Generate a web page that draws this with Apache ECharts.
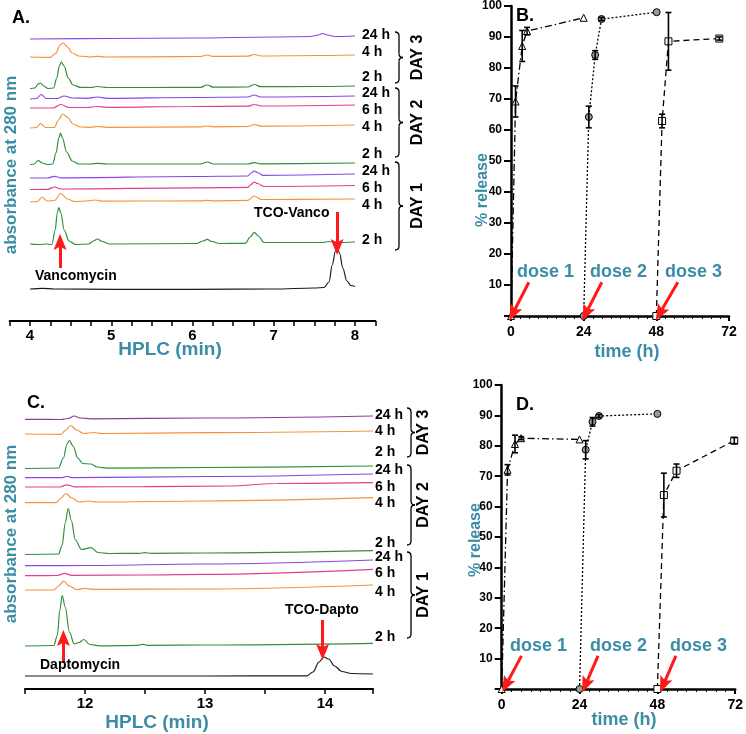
<!DOCTYPE html>
<html><head><meta charset="utf-8">
<script src="https://cdn.jsdelivr.net/npm/echarts@6/dist/echarts.min.js"></script>
<style>html,body{margin:0;padding:0;background:#fff}#c{width:746px;height:734px}</style>
</head><body><div id="c"></div>
<script>
// ---------------- DATA ----------------
// Panel A: HPLC traces (time in min, relative absorbance offset units)
const ticksA = [4, 5, 6, 7, 8];
const traceLabelsA = ['24 h','4 h','2 h','24 h','6 h','4 h','2 h','24 h','6 h','4 h','2 h'];
const dayLabels = ['DAY 3','DAY 2','DAY 1'];
const a_d3_24h = [[4,282],[5,282.5],[6,283],[7,284],[7.45,284.5],[7.55,286],[7.6,287.5],[7.66,286],[7.75,284.5],[8,285]];
const a_d3_4h = [[4,264],[4.25,263.7],[4.32,268],[4.37,276],[4.41,278],[4.46,274],[4.52,268],[4.6,265],[4.75,264],[4.83,264.7],[4.92,264],[5.5,264.2],[6.1,264.5],[6.18,266],[6.25,264.6],[6.68,264.8],[6.76,266.5],[6.85,265],[7.5,265.5],[8,266]];
const a_d3_2h = [[4,232.5],[4.06,233],[4.1,237],[4.13,238],[4.17,235],[4.22,232.5],[4.29,233],[4.33,243],[4.36,255],[4.385,259],[4.42,255],[4.47,243],[4.53,236],[4.62,233.7],[4.75,233.5],[4.83,234.5],[4.95,233.5],[5.5,233.5],[6.1,233.7],[6.18,236],[6.26,233.8],[6.68,234],[6.76,236.5],[6.84,234.3],[7.5,234.5],[8,235]];
const a_d2_24h = [[4,222],[4.08,222.5],[4.14,226.5],[4.2,222.5],[4.33,222.5],[4.42,225],[4.52,223],[4.7,222.7],[4.83,224],[4.95,222.7],[6,223.5],[6.68,224],[6.76,226],[6.84,224],[8,225]];
const a_d2_6h = [[4,213],[4.28,213],[4.38,216.5],[4.48,213.5],[4.7,213.5],[4.83,214.5],[4.95,213.7],[6,214.5],[6.68,214.8],[6.76,216.5],[6.85,215],[8,216]];
const a_d2_4h = [[4,193],[4.08,193.5],[4.13,197.5],[4.19,193.5],[4.3,193.5],[4.35,201],[4.4,207],[4.46,204],[4.53,197],[4.62,194],[4.75,193.7],[4.83,194.5],[4.95,193.7],[6.1,194.2],[6.18,195],[6.26,194.2],[6.68,194.5],[6.76,196.5],[6.85,194.8],[8,196]];
const a_d2_2h = [[4,156.5],[4.05,157],[4.1,160.5],[4.15,158],[4.21,156.5],[4.28,157],[4.32,168],[4.355,183],[4.375,188],[4.4,183],[4.45,169],[4.52,160],[4.6,157],[4.75,157],[4.83,157.7],[4.95,157],[6.1,157],[6.18,159],[6.26,157],[6.68,157],[6.76,158.3],[6.84,157.2],[8,158]];
const a_d1_24h = [[4,143],[4.22,143],[4.3,144.7],[4.38,143.2],[6,144.5],[6.68,145],[6.72,148],[6.76,150],[6.8,148.5],[6.87,145.7],[8,147]];
const a_d1_6h = [[4,131.5],[4.22,131.7],[4.3,134],[4.38,132],[6,133.2],[6.68,133.7],[6.72,136.5],[6.76,139],[6.8,137.5],[6.88,134.5],[8,135.5]];
const a_d1_4h = [[4,119],[4.09,119.5],[4.15,124],[4.21,120],[4.3,120.5],[4.38,127.5],[4.46,122],[4.55,119.5],[4.7,120],[4.8,121],[4.9,119.8],[6.1,120.2],[6.18,120.7],[6.26,120.2],[6.68,120.7],[6.76,125],[6.85,121.5],[8,122]];
const a_d1_2h = [[4,77],[4.1,76.5],[4.2,77],[4.27,76.5],[4.31,91],[4.335,108],[4.355,113.5],[4.38,108],[4.42,91],[4.48,80],[4.56,76.5],[4.72,77],[4.78,80],[4.83,82],[4.89,79.5],[4.98,77],[6.05,77.5],[6.13,80],[6.18,81.7],[6.24,79.5],[6.33,77.5],[6.65,77.7],[6.71,84],[6.76,88.7],[6.81,85],[6.88,78.5],[7.6,78.5],[7.68,79.5],[7.76,78.5],[8,79]];
const a_tco = [[4,32],[4.15,32.7],[4.3,32],[5,31.7],[6,31.7],[7,32],[7.5,33],[7.62,33.5],[7.68,39],[7.72,56],[7.76,70],[7.785,71.5],[7.81,68],[7.85,53],[7.9,40],[7.95,35.5],[8,34.5]];

// Panel C
const ticksC = [12, 13, 14];
const c_d3_24h = [[11.5,269.7],[11.8,269.5],[11.86,270.5],[11.91,273],[11.96,271],[12.05,270.2],[13,271],[14.4,273]];
const c_d3_4h = [[11.5,255],[11.8,254.7],[11.84,259],[11.88,263.5],[11.93,259],[11.99,255.5],[12.07,256.5],[12.14,255.5],[13,256.3],[14.4,258]];
const c_d3_2h = [[11.5,220.5],[11.78,221],[11.82,231],[11.85,245],[11.87,248.5],[11.9,243],[11.94,231],[11.98,225.5],[12.05,225],[12.1,222],[12.2,220.8],[13,221.5],[14.4,223]];
const c_d2_24h = [[11.5,211.3],[11.8,211.3],[11.85,212.5],[11.9,211.4],[13,212.5],[14.4,215]];
const c_d2_6h = [[11.5,202],[11.79,202],[11.85,204.2],[11.91,202.2],[12.5,202.3],[13.2,203],[13.6,205.5],[14.4,206.3]];
const c_d2_4h = [[11.5,186.3],[11.76,186.3],[11.8,191],[11.84,195.5],[11.89,191],[11.95,187],[12.03,188],[12.1,187],[13,188],[14.4,191.3]];
const c_d2_2h = [[11.5,134.5],[11.78,135],[11.81,144],[11.835,166],[11.86,180.5],[11.885,169],[11.92,149],[11.97,139.5],[12.05,141.3],[12.11,136.5],[12.2,135.5],[12.45,135.7],[12.5,136.3],[12.55,135.7],[13,136],[14.4,138.3]];
const c_d1_24h = [[11.5,123.3],[12,123.5],[13,125],[14.4,129]];
const c_d1_6h = [[11.5,113.3],[11.77,113.5],[11.83,115.7],[11.89,113.6],[12.5,114],[13,114.7],[14.4,119.7]];
const c_d1_4h = [[11.5,99],[11.74,99],[11.78,103],[11.82,107.8],[11.87,103],[11.93,99.5],[12.0,100.7],[12.07,99.7],[13,100],[14.4,104]];
const c_d1_2h = [[11.5,43],[11.74,43.5],[11.77,54],[11.79,79],[11.81,93.5],[11.835,82],[11.87,57],[11.91,45],[11.95,46.5],[11.99,49.5],[12.04,44.5],[12.12,43.2],[12.44,43.7],[12.48,44.7],[12.52,43.7],[13,44],[14.4,45.7]];
const c_tco = [[11.5,13],[13,13],[13.85,13.2],[13.9,17],[13.95,27],[13.99,32],[14.03,30],[14.08,23],[14.14,17.5],[14.22,15.5],[14.4,15]];

// Panel B: % release (time h, %), error (+/-)
const ticksTime = [0, 24, 48, 72];
const ticksRelease = [10, 20, 30, 40, 50, 60, 70, 80, 90, 100];
const b_dose1 = [[0,0],[1.5,69.2],[3.7,87.1],[5.3,91.9],[24,96.2]];
const b_dose1_err = [0,5,5,1.2,0];
const b_dose2 = [[24,0],[25.7,64.2],[27.8,84.2],[29.9,95.8],[48.1,98]];
const b_dose2_err = [0,3.5,1.4,0.5,0];
const b_dose3 = [[48,0],[49.9,62.9],[52,88.6],[68.8,89.5]];
const b_dose3_err = [0,2.2,9.3,0.5];

// Panel D
const d_dose1 = [[0,0],[1.8,72.1],[4.1,80.6],[6,82.5],[24,82.1]];
const d_dose1_err = [0,1.7,2.9,0.5,0];
const d_dose2 = [[24,0],[25.9,78.7],[28,87.9],[30,89.8],[48,90.5]];
const d_dose2_err = [0,3,1.4,0.5,0];
const d_dose3 = [[48,0],[50,63.8],[53.9,71.8],[71.7,81.7]];
const d_dose3_err = [0,7.2,2.2,1];
const doseLabels = ['dose 1','dose 2','dose 3'];

// ---------------- STYLE / LAYOUT ----------------
const FONT = 'Liberation Sans';
const TEAL = '#3B8DA6';
const RED = '#FF1A1A';
const C_PURPLE = '#8A46E6', C_ORANGE = '#F4933F', C_GREEN = '#2F8F3A', C_PINK = '#E83C8C', C_BLACK = '#1a1a1a';

const tracesA = [
  [a_d3_24h, C_PURPLE],[a_d3_4h, C_ORANGE],[a_d3_2h, C_GREEN],
  [a_d2_24h, C_PURPLE],[a_d2_6h, C_PINK],[a_d2_4h, C_ORANGE],[a_d2_2h, C_GREEN],
  [a_d1_24h, C_PURPLE],[a_d1_6h, C_PINK],[a_d1_4h, C_ORANGE],[a_d1_2h, C_GREEN],
  [a_tco, C_BLACK]
];
const tracesC = [
  [c_d3_24h, '#8E3C9C'],[c_d3_4h, C_ORANGE],[c_d3_2h, C_GREEN],
  [c_d2_24h, C_PURPLE],[c_d2_6h, C_PINK],[c_d2_4h, C_ORANGE],[c_d2_2h, C_GREEN],
  [c_d1_24h, C_PURPLE],[c_d1_6h, C_PINK],[c_d1_4h, C_ORANGE],[c_d1_2h, C_GREEN],
  [c_tco, C_BLACK]
];

const ARROW_HEAD = 'path://M6,0 L12,15 L6,12 L0,15 Z';
function arrows(pairs) {
  return {silent: true, animation: false, symbol: ['none', ARROW_HEAD], symbolSize: [13, 16],
    label: {show: false}, emphasis: {disabled: true},
    lineStyle: {color: RED, width: 3, type: 'solid'},
    data: pairs.map(p => [{coord: p[0]}, {coord: p[1]}])};
}

const series = [];
tracesA.forEach((t, i) => {
  const s = {type: 'line', xAxisIndex: 0, yAxisIndex: 0, data: t[0], showSymbol: false,
    smooth: 0.35, smoothMonotone: 'x', lineStyle: {color: t[1], width: 1.2}, silent: true};
  if (i === tracesA.length - 1) s.markLine = arrows([[[4.37, 53], [4.37, 79]], [[7.78, 109], [7.78, 74]]]);
  series.push(s);
});
tracesC.forEach((t, i) => {
  const s = {type: 'line', xAxisIndex: 2, yAxisIndex: 2, data: t[0], showSymbol: false,
    smooth: 0.35, smoothMonotone: 'x', lineStyle: {color: t[1], width: 1.2}, silent: true};
  if (i === tracesC.length - 1) s.markLine = arrows([[[11.82, 26], [11.82, 51]], [[13.98, 69], [13.98, 37]]]);
  series.push(s);
});

const lineTypes = [[7, 3, 1.5, 3], [2, 2], [6, 4]];
const symbols = [['triangle', '#fff'], ['circle', '#9a9a9a'], ['rect', '#fff']];
function release(ax, sets, arrowPairs) {
  sets.forEach((st, i) => {
    const s = {type: 'line', xAxisIndex: ax, yAxisIndex: ax, data: st[0], symbol: symbols[i][0], symbolSize: 7,
      itemStyle: {color: symbols[i][1], borderColor: '#000', borderWidth: 1},
      lineStyle: {color: '#000', width: 1.3, type: lineTypes[i]}, silent: true, z: 3};
    if (i === 0) s.markLine = arrows(arrowPairs);
    series.push(s);
    const errData = st[0].map((p, k) => [p[0], p[1] - st[1][k], p[1] + st[1][k]]).filter((d, k) => st[1][k] > 0);
    series.push({type: 'custom', xAxisIndex: ax, yAxisIndex: ax, data: errData, silent: true, z: 4,
      encode: {x: 0, y: [1, 2]},
      renderItem: function (params, api) {
        const x = api.value(0), p1 = api.coord([x, api.value(1)]), p2 = api.coord([x, api.value(2)]);
        const w = 3, st2 = {stroke: '#000', lineWidth: 1.6};
        return {type: 'group', children: [
          {type: 'line', shape: {x1: p1[0], y1: p1[1], x2: p2[0], y2: p2[1]}, style: st2},
          {type: 'line', shape: {x1: p1[0] - w, y1: p1[1], x2: p1[0] + w, y2: p1[1]}, style: st2},
          {type: 'line', shape: {x1: p2[0] - w, y1: p2[1], x2: p2[0] + w, y2: p2[1]}, style: st2}
        ]};
      }});
  });
}
release(1, [[b_dose1, b_dose1_err], [b_dose2, b_dose2_err], [b_dose3, b_dose3_err]],
  [[[5.9, 10.9], [0.6, 0.8]], [[30, 10.9], [24.7, 0.8]], [[55.1, 10.9], [49.1, 0.8]]]);
release(3, [[d_dose1, d_dose1_err], [d_dose2, d_dose2_err], [d_dose3, d_dose3_err]],
  [[[6.1, 10.9], [1.3, 1.3]], [[29.7, 10.9], [25.8, 1.3]], [[53.7, 10.9], [49.8, 1.3]]]);

function hplcX(idx, min, max, ticks, margin) {
  return {type: 'value', gridIndex: idx, min: min, max: max, interval: idx === 0 ? 0.25 : 0.5,
    axisLine: {show: true, onZero: false, lineStyle: {color: '#000', width: 2}},
    axisTick: {show: true, length: 5, lineStyle: {color: '#000', width: 1.5}},
    splitLine: {show: false},
    axisLabel: {margin: margin, fontFamily: FONT, fontWeight: 'bold', fontSize: 15, color: '#000',
      formatter: v => ticks.indexOf(Math.round(v * 1000) / 1000) >= 0 ? String(v) : ''}};
}
function relX(idx) {
  return {type: 'value', gridIndex: idx, min: 0, max: 72, interval: 24,
    axisLine: {show: true, onZero: false, lineStyle: {color: '#000', width: 2.5}},
    axisTick: {show: true, length: 5, lineStyle: {color: '#000', width: 2}},
    minorTick: {show: true, splitNumber: 8, length: 3, lineStyle: {color: '#000', width: 1}},
    splitLine: {show: false},
    axisLabel: {margin: 9, fontFamily: FONT, fontWeight: 'bold', fontSize: 14, color: '#000',
      formatter: v => ticksTime.indexOf(v) >= 0 ? String(v) : ''}};
}
function relY(idx) {
  return {type: 'value', gridIndex: idx, min: 0, max: 100, interval: 10,
    axisLine: {show: true, onZero: false, lineStyle: {color: '#000', width: 2.5}},
    axisTick: {show: true, length: 7, lineStyle: {color: '#000', width: 2}},
    splitLine: {show: false},
    axisLabel: {margin: 9, fontFamily: FONT, fontWeight: 'bold', fontSize: 12, color: '#000',
      formatter: v => ticksRelease.indexOf(v) >= 0 ? String(v) : ''}};
}
function hiddenY(idx) {
  return {type: 'value', gridIndex: idx, min: 0, max: 300, show: false, splitLine: {show: false}};
}

// ---- graphic decorations ----
const graphic = [];
function txt(text, x, y, size, color, opts) {
  const o = Object.assign({type: 'text', x: x, y: y, silent: true, z: 10,
    style: {text: text, fontFamily: FONT, fontWeight: 'bold', fontSize: size, fill: color,
      textAlign: 'left', textVerticalAlign: 'middle'}}, opts || {});
  if (opts && opts.align) { o.style.textAlign = opts.align; delete o.align; }
  graphic.push(o);
}
function brace(x, y1, y2) {
  const w = 4, m = (y1 + y2) / 2, st = {stroke: '#000', lineWidth: 1.3, fill: 'none'};
  const parts = [
    {type: 'bezierCurve', shape: {x1: x, y1: y1, x2: x + w, y2: y1 + w, cpx1: x + w, cpy1: y1}},
    {type: 'line', shape: {x1: x + w, y1: y1 + w, x2: x + w, y2: m - w}},
    {type: 'bezierCurve', shape: {x1: x + w, y1: m - w, x2: x + 2 * w, y2: m, cpx1: x + w, cpy1: m}},
    {type: 'bezierCurve', shape: {x1: x + 2 * w, y1: m, x2: x + w, y2: m + w, cpx1: x + w, cpy1: m}},
    {type: 'line', shape: {x1: x + w, y1: m + w, x2: x + w, y2: y2 - w}},
    {type: 'bezierCurve', shape: {x1: x + w, y1: y2 - w, x2: x, y2: y2, cpx1: x + w, cpy1: y2}}
  ];
  parts.forEach(p => { p.style = st; p.silent = true; graphic.push(p); });
}
// panel letters
txt('A.', 12, 18, 18, '#000');
txt('B.', 516, 16, 18, '#000');
txt('C.', 27, 403, 18, '#000');
txt('D.', 516, 405, 18, '#000');
// axis titles
txt('absorbance at 280 nm', 11, 165, 17, TEAL, {rotation: Math.PI / 2, align: 'center'});
txt('absorbance at 280 nm', 11, 534, 17, TEAL, {rotation: Math.PI / 2, align: 'center'});
txt('HPLC (min)', 170, 350, 19, TEAL, {align: 'center'});
txt('HPLC (min)', 157, 723, 19, TEAL, {align: 'center'});
txt('% release', 483, 190, 16, TEAL, {rotation: Math.PI / 2, align: 'center'});
txt('% release', 476, 540, 16, TEAL, {rotation: Math.PI / 2, align: 'center'});
txt('time (h)', 627, 352, 18, TEAL, {align: 'center'});
txt('time (h)', 624, 720, 18, TEAL, {align: 'center'});
// compound annotations
txt('Vancomycin', 35, 276, 14, '#000');
txt('TCO-Vanco', 254, 213, 14, '#000');
txt('Daptomycin', 40, 665, 14, '#000');
txt('TCO-Dapto', 285, 610, 14, '#000');
// dose labels
[517, 590, 665].forEach((x, i) => txt(doseLabels[i], x, 272, 18, TEAL));
[510, 590, 670].forEach((x, i) => txt(doseLabels[i], x, 646, 18, TEAL));
// trace labels
const labYA = [35, 52, 77, 93, 110, 127, 154, 171, 188, 205, 240];
const labYC = [415, 431, 452, 470, 487, 503, 543, 557, 573, 592, 637];
labYA.forEach((y, i) => txt(traceLabelsA[i], 362, y, 14, '#000'));
labYC.forEach((y, i) => txt(traceLabelsA[i], 375, y, 14, '#000'));
// braces and day labels
[[32, 83], [88, 157], [162, 250]].forEach((b, i) => { brace(395, b[0], b[1]); txt(dayLabels[i], 418, (b[0] + b[1]) / 2, 16, '#000', {rotation: Math.PI / 2, align: 'center'}); });
[[408, 457], [465, 545], [552, 638]].forEach((b, i) => { brace(407, b[0], b[1]); txt(dayLabels[i], 424, (b[0] + b[1]) / 2, 16, '#000', {rotation: Math.PI / 2, align: 'center'}); });

const option = {
  animation: false,
  backgroundColor: '#fff',
  grid: [
    {left: 9.7, top: 21, width: 365.6, height: 300},
    {left: 511, top: 3, width: 218, height: 313},
    {left: 25, top: 389, width: 348, height: 300},
    {left: 501.7, top: 385, width: 238.3, height: 304}
  ],
  xAxis: [hplcX(0, 3.75, 8.25, ticksA, 7), relX(1), hplcX(2, 11.5, 14.4, ticksC, 7), relX(3)],
  yAxis: [hiddenY(0), relY(1), hiddenY(2), relY(3)],
  series: series,
  graphic: graphic
};
const chart = echarts.init(document.getElementById('c'), null, {renderer: 'canvas'});
chart.setOption(option);
</script></body></html>
